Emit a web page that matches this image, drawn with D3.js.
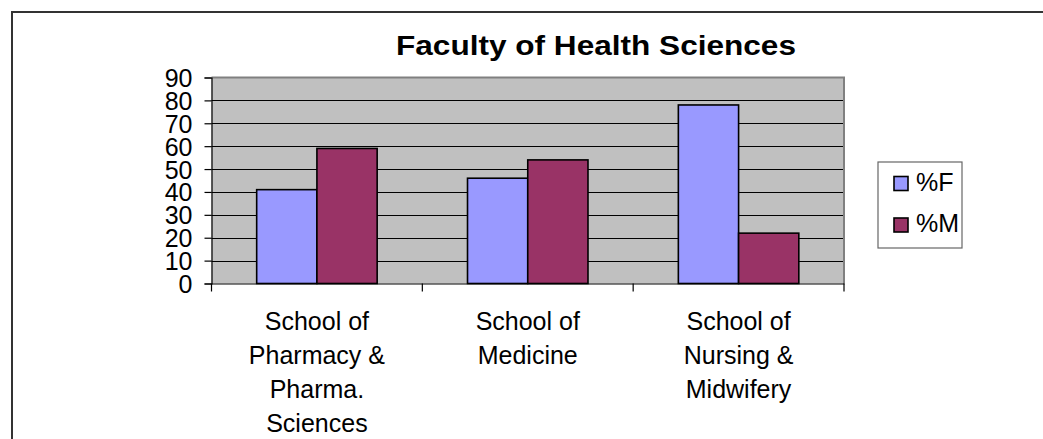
<!DOCTYPE html>
<html>
<head>
<meta charset="utf-8">
<script src="https://cdn.jsdelivr.net/npm/d3@7"></script>
<style>
  html, body { margin: 0; padding: 0; background: #fff; }
  svg { display: block; font-family: "Liberation Sans", Arial, sans-serif; }
</style>
</head>
<body>
<svg id="chart" width="1043" height="439"></svg>
<script>
const categories = [
  ["School of", "Pharmacy &", "Pharma.", "Sciences"],
  ["School of", "Medicine"],
  ["School of", "Nursing &", "Midwifery"]
];
const categoryKeys = ["Pharmacy", "Medicine", "Nursing"];
const seriesNames = ["%F", "%M"];
const femaleValues = [41, 46, 78];
const maleValues = [59, 54, 22];
const yTicks = [0, 10, 20, 30, 40, 50, 60, 70, 80, 90];
const titleText = "Faculty of Health Sciences";

const colors = { "%F": "#9999FF", "%M": "#993366" };
const valuesBySeries = { "%F": femaleValues, "%M": maleValues };

const svg = d3.select("#chart");

// outer frame (top and left edges visible)
svg.append("path")
  .attr("d", "M12,439 L12,12 L1043,12")
  .attr("fill", "none").attr("stroke", "#333").attr("stroke-width", 2);

const plotLeft = 211.5, plotRight = 844, plotTop = 77.5, plotBottom = 283.5;

const x0 = d3.scaleBand().domain(categoryKeys).range([plotLeft, plotRight]).paddingInner(0).paddingOuter(0);
const x1 = d3.scaleBand().domain(seriesNames).range([0, x0.bandwidth()]).paddingInner(0).paddingOuter(0.75);
const y = d3.scaleLinear().domain([0, 90]).range([plotBottom, plotTop]);

// plot background
svg.append("rect")
  .attr("x", plotLeft).attr("y", plotTop)
  .attr("width", plotRight - plotLeft).attr("height", plotBottom - plotTop)
  .attr("fill", "#C0C0C0");

// gridlines
svg.append("g").selectAll("line").data(yTicks.filter(d => d > 0 && d < 90)).join("line")
  .attr("x1", plotLeft).attr("x2", plotRight)
  .attr("y1", d => Math.round(y(d)) + 0.5).attr("y2", d => Math.round(y(d)) + 0.5)
  .attr("stroke", "#000").attr("stroke-width", 1);

// plot border top/right (gray)
svg.append("path")
  .attr("d", `M${plotLeft},${plotTop} L${plotRight},${plotTop} L${plotRight},${plotBottom}`)
  .attr("fill", "none").attr("stroke", "#808080").attr("stroke-width", 2);

// bars
const rows = categoryKeys.map((k, i) => ({ key: k, i }));
const groups = svg.append("g").selectAll("g").data(rows).join("g")
  .attr("transform", d => `translate(${x0(d.key)},0)`);
groups.selectAll("rect")
  .data(d => seriesNames.map(s => ({ s, v: valuesBySeries[s][d.i] })))
  .join("rect")
  .attr("x", d => x1(d.s))
  .attr("y", d => y(d.v))
  .attr("width", x1.bandwidth())
  .attr("height", d => y(0) - y(d.v))
  .attr("fill", d => colors[d.s])
  .attr("stroke", "#000").attr("stroke-width", 1.6);

// y axis
const yAxis = d3.axisLeft(y).tickValues(yTicks).tickSize(7).tickPadding(12).tickFormat(d3.format("d"));
const yg = svg.append("g").attr("transform", `translate(${plotLeft},0)`).call(yAxis);
yg.select(".domain").attr("stroke", "#000").attr("stroke-width", 1.2);
yg.selectAll(".tick line").attr("stroke", "#000").attr("stroke-width", 1.2);
yg.selectAll(".tick text")
  .attr("font-size", 25).attr("font-family", "Liberation Sans, Arial, sans-serif")
  .attr("fill", "#000").attr("dy", "0.36em");

// x axis
const xAxis = d3.axisBottom(x0).tickValues([]).tickSize(0);
const xg = svg.append("g").attr("transform", `translate(0,${plotBottom})`).call(xAxis);
xg.select(".domain").attr("stroke", "#000").attr("stroke-width", 1.2);
const boundaries = categoryKeys.map(k => x0(k)).concat([x0(categoryKeys[categoryKeys.length - 1]) + x0.bandwidth()]);
xg.selectAll("line.bnd").data(boundaries).join("line").attr("class", "bnd")
  .attr("x1", d => d).attr("x2", d => d).attr("y1", 0).attr("y2", 8)
  .attr("stroke", "#000").attr("stroke-width", 1.2);

// category labels
const labels = svg.append("g").selectAll("text").data(rows).join("text")
  .attr("x", d => x0(d.key) + x0.bandwidth() / 2)
  .attr("y", 330)
  .attr("text-anchor", "middle")
  .attr("font-size", 25).attr("fill", "#000");
labels.selectAll("tspan").data(d => categories[d.i].map(t => ({ t, cx: x0(d.key) + x0.bandwidth() / 2 })))
  .join("tspan")
  .attr("x", d => d.cx)
  .attr("dy", (d, i) => i === 0 ? 0 : 33.9)
  .text(d => d.t);

// title
svg.append("text")
  .attr("x", 596).attr("y", 54.5)
  .attr("text-anchor", "middle")
  .attr("font-size", 28).attr("font-weight", "bold").attr("fill", "#000")
  .attr("textLength", 400).attr("lengthAdjust", "spacingAndGlyphs")
  .text(titleText);

// legend
const legend = svg.append("g");
legend.append("rect")
  .attr("x", 878).attr("y", 162).attr("width", 84).attr("height", 86)
  .attr("fill", "#fff").attr("stroke", "#666").attr("stroke-width", 1.2);
const li = legend.selectAll("g").data(seriesNames).join("g")
  .attr("transform", (d, i) => `translate(0,${i * 41.5})`);
li.append("rect")
  .attr("x", 894).attr("y", 176.5).attr("width", 14).attr("height", 14)
  .attr("fill", d => colors[d]).attr("stroke", "#000").attr("stroke-width", 1.6);
li.append("text")
  .attr("x", 916).attr("y", 190.5)
  .attr("font-size", 25).attr("fill", "#000")
  .text(d => d);
</script>
</body>
</html>
